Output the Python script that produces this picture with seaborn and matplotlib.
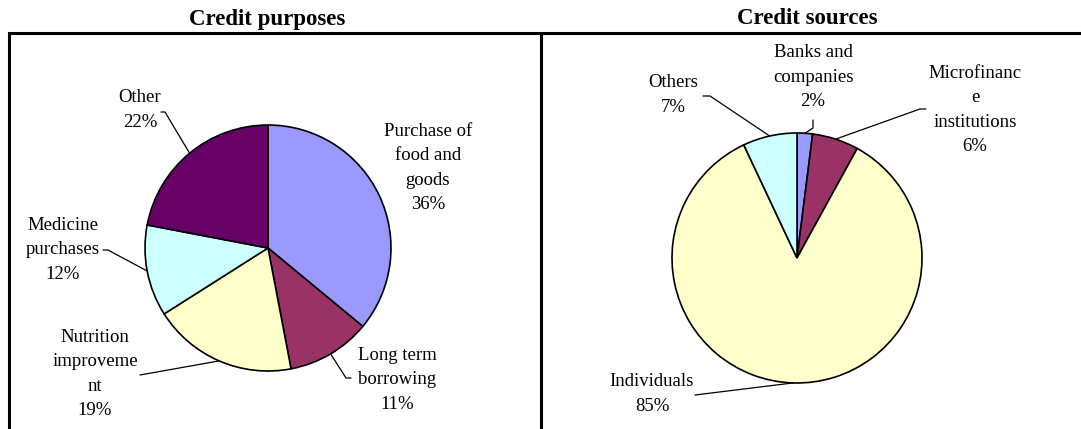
import numpy as np
import matplotlib
matplotlib.use("Agg")
import matplotlib.pyplot as plt
import seaborn as sns

# Data
purpose_labels = ["Purchase of\nfood and\ngoods", "Long term\nborrowing",
                  "Nutrition\nimproveme\nnt", "Medicine\npurchases", "Other"]
purpose_values = [36, 11, 19, 12, 22]
purpose_colors = ["#9999FF", "#993366", "#FFFFCC", "#CCFFFF", "#660066"]

source_labels = ["Banks and\ncompanies", "Microfinanc\ne\ninstitutions",
                 "Individuals", "Others"]
source_values = [2, 6, 85, 7]
source_colors = ["#9999FF", "#993366", "#FFFFCC", "#CCFFFF"]

sns.set_theme(style="white")
plt.rcParams["font.family"] = ["Liberation Serif", "DejaVu Serif"]
plt.rcParams["text.color"] = "black"

W, H = 1081, 429
fig = plt.figure(figsize=(W / 100, H / 100), dpi=100)
ax = fig.add_axes([0, 0, 1, 1])


def draw_pie(center, radius, values, colors, labels, label_layout):
    # y axis is inverted, so counter-clockwise in data space is clockwise on screen
    ax.pie(values, colors=colors, center=center, radius=radius,
           startangle=-90, counterclock=True,
           wedgeprops=dict(edgecolor="black", linewidth=1.2))
    total = float(sum(values))
    cum = np.cumsum([0] + list(values)) / total
    for i, (lab, val) in enumerate(zip(labels, values)):
        text_xy, path = label_layout[i]
        ax.text(text_xy[0], text_xy[1], f"{lab}\n{val}%", ha="center", va="center",
                fontsize=13.5, linespacing=1.58, color="black")
        if path:
            mid = (cum[i] + cum[i + 1]) / 2
            th = np.deg2rad(-90 + 360 * mid)
            px = center[0] + radius * np.cos(th)
            py = center[1] + radius * np.sin(th)
            xs = [px] + [p[0] for p in path]
            ys = [py] + [p[1] for p in path]
            ax.plot(xs, ys, color="black", linewidth=0.9)


purpose_layout = [
    ((428, 168), None),
    ((397, 380), [(346, 378), (351, 378)]),
    ((95, 374), [(140, 375)]),
    ((63, 250), [(108, 250), (103, 250)]),
    ((140, 110), [(165, 112), (161, 112)]),
]
source_layout = [
    ((813, 77), [(813, 128), (813, 120)]),
    ((975, 110), [(920, 109), (926, 109)]),
    ((652, 394), [(695, 395)]),
    ((673, 95), [(710, 96), (703, 96)]),
]

draw_pie((268, 248), 123, purpose_values, purpose_colors, purpose_labels, purpose_layout)
draw_pie((797, 258), 125, source_values, source_colors, source_labels, source_layout)

# Panel frames
ax.plot([8.5, 8.5, 1081], [429, 33, 33], color="black", linewidth=2.2,
        solid_joinstyle="miter")
ax.plot([541, 541], [33, 429], color="black", linewidth=2.2)

# Titles
ax.text(267, 19, "Credit purposes", ha="center", va="center",
        fontsize=16.5, fontweight="bold", color="black")
ax.text(807, 19, "Credit sources", ha="center", va="center",
        fontsize=16.5, fontweight="bold", color="black")

ax.set_xlim(0, W)
ax.set_ylim(H, 0)
ax.set_aspect("equal")
ax.axis("off")

fig.savefig("out.png", dpi=100)
